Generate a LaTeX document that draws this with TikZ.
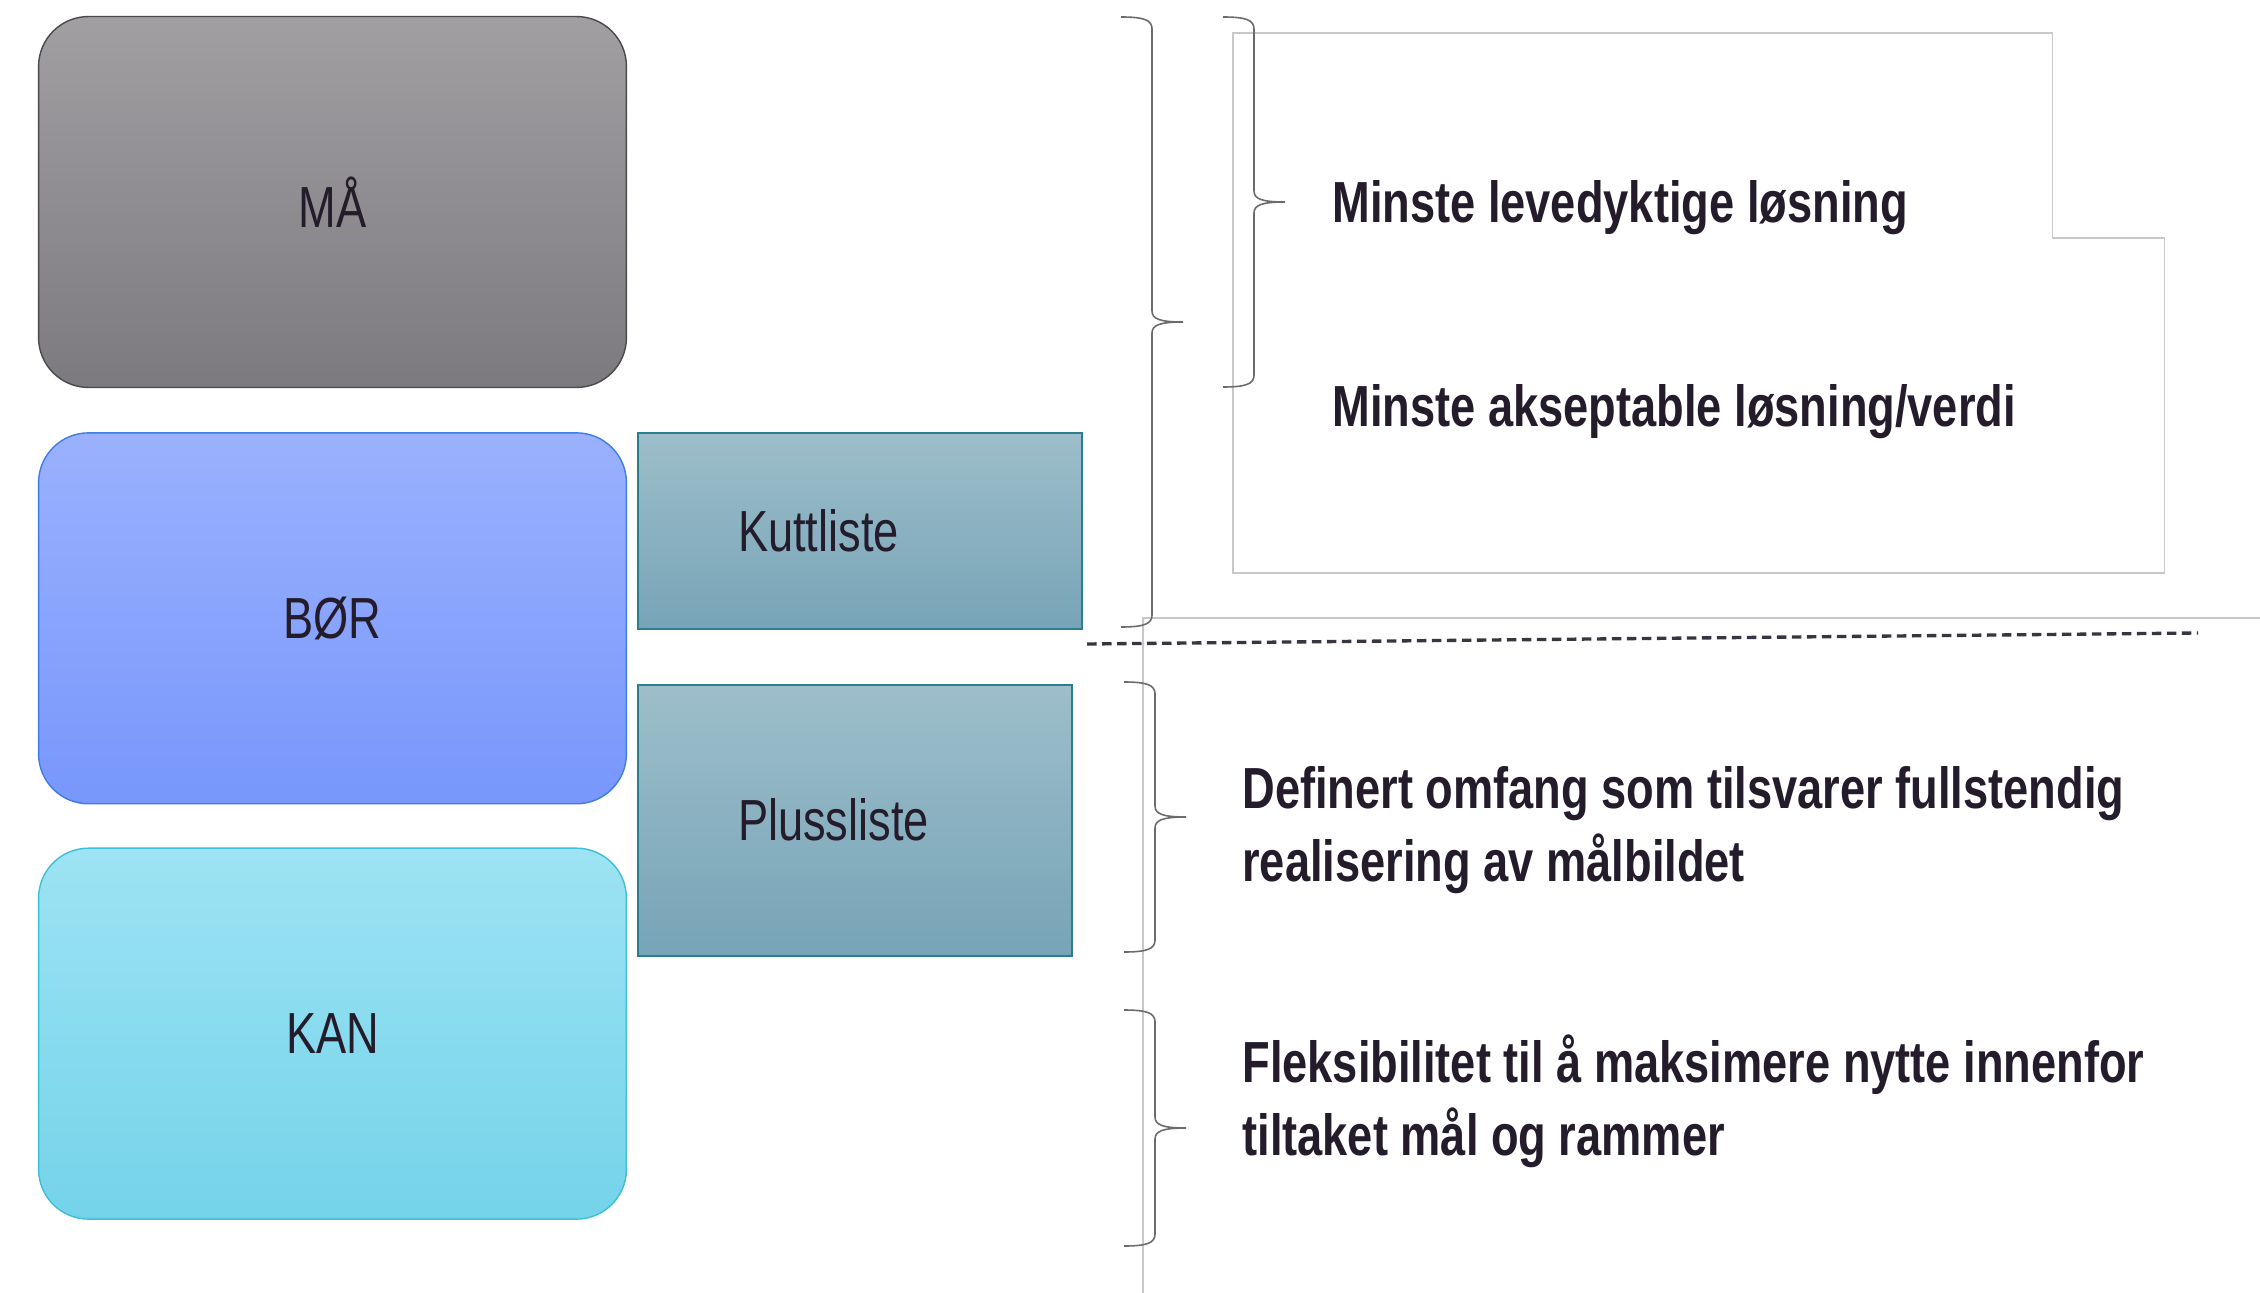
\documentclass[tikz,border=0pt]{standalone}
\usepackage{fontspec}
\setmainfont{Liberation Sans}[FakeStretch=0.78]
\usepackage{xcolor}
\usepackage{tikz}
\usetikzlibrary{positioning}

\definecolor{txt}{HTML}{241C2B}
\definecolor{maTop}{HTML}{A19FA2}
\definecolor{maBot}{HTML}{7C7A7E}
\definecolor{maLine}{HTML}{4A494C}
\definecolor{borTop}{HTML}{9AB1FD}
\definecolor{borBot}{HTML}{7897FC}
\definecolor{borLine}{HTML}{3F7DE6}
\definecolor{kanTop}{HTML}{9DE3F3}
\definecolor{kanBot}{HTML}{74D3EA}
\definecolor{kanLine}{HTML}{3DBFD6}
\definecolor{listTop}{HTML}{9DBECA}
\definecolor{listBot}{HTML}{77A4B7}
\definecolor{listLine}{HTML}{2B7E8E}
\definecolor{braceGray}{HTML}{6B6B6B}
\definecolor{frameGray}{HTML}{C8C8C8}
\definecolor{dashDark}{HTML}{3A3440}

\newcommand{\sidebrace}[3]{%
  \pgfmathsetmacro{\braceX}{#1+31}\pgfmathsetmacro{\braceT}{#1+62}%
  \pgfmathsetmacro{\braceM}{(#2+#3)/2}%
  \draw[brace line] (#1,#2) .. controls (\braceX-8,#2) and (\braceX,#2+3) .. (\braceX,#2+12)
    -- (\braceX,\braceM-11) .. controls (\braceX,\braceM-3) and (\braceX+8,\braceM) .. (\braceT,\braceM)
    .. controls (\braceX+8,\braceM) and (\braceX,\braceM+3) .. (\braceX,\braceM+11)
    -- (\braceX,#3-12) .. controls (\braceX,#3-3) and (\braceX-8,#3) .. (#1,#3);}

\begin{document}
\begin{tikzpicture}[
    x=0.02cm, y=-0.02cm,
    tierbox/.style={rectangle, rounded corners=1cm, line width=0.8pt, minimum width=11.76cm, minimum height=7.42cm, align=center, text=txt, font=\fontsize{33pt}{41.4pt}\selectfont},
    listbox/.style={rectangle, line width=1pt, draw=listLine, top color=listTop, bottom color=listBot, inner xsep=2cm, align=left, text=txt, font=\fontsize{33pt}{41.4pt}\selectfont},
    note/.style={inner sep=0pt, align=left, text=txt, font=\fontsize{33pt}{41.4pt}\selectfont\bfseries},
    brace line/.style={braceGray, line width=0.9pt},
    thin line/.style={frameGray, line width=0.6pt}
]
\fill[white] (0,0) rectangle (2260,1293);
\useasboundingbox (0,0) rectangle (2260,1293);

\node (ma) [tierbox, draw=maLine, top color=maTop, bottom color=maBot] at (332.5,202) {MÅ};
\node (bor) [tierbox, draw=borLine, top color=borTop, bottom color=borBot, below=0.88cm of ma] {BØR};
\node (kan) [tierbox, draw=kanLine, top color=kanTop, bottom color=kanBot, below=0.86cm of bor] {KAN};

\node (kutt) [listbox, text width=4.88cm, minimum height=3.92cm, right=0.2cm of bor.north east, anchor=north west] {Kuttliste};
\node (pluss) [listbox, text width=4.68cm, minimum height=5.42cm, below=1.08cm of kutt.south west, anchor=north west] {Plussliste};

\draw [thin line] (1233,33) -- (2052,33) -- (2052,238) -- (2164,238) -- (2164,573) -- (1233,573) -- cycle;
\coordinate (corner) at (1143,618);
\draw [thin line] (2260,618) -- (corner) -- (1143,1293);
\draw [dashDark, line width=1.9pt, dash pattern=on 0.19cm off 0.11cm] (1087,644) -- (2198,633);

\sidebrace{1121}{17}{627}
\sidebrace{1223}{17}{387}
\sidebrace{1124}{682}{952}
\sidebrace{1124}{1010}{1246}

\node (mvp) [note, anchor=base west] at (1332,223) {Minste levedyktige løsning};
\node (mav) [note, anchor=base west] at (1332,427) {Minste akseptable løsning/verdi};
\node (full) [note, anchor=base west] at (1242,881) {Definert omfang som tilsvarer fullstendig\\realisering av målbildet};
\node (flex) [note, anchor=base west] at (1242,1155) {Fleksibilitet til å maksimere nytte innenfor\\tiltaket mål og rammer};

\end{tikzpicture}
\end{document}
